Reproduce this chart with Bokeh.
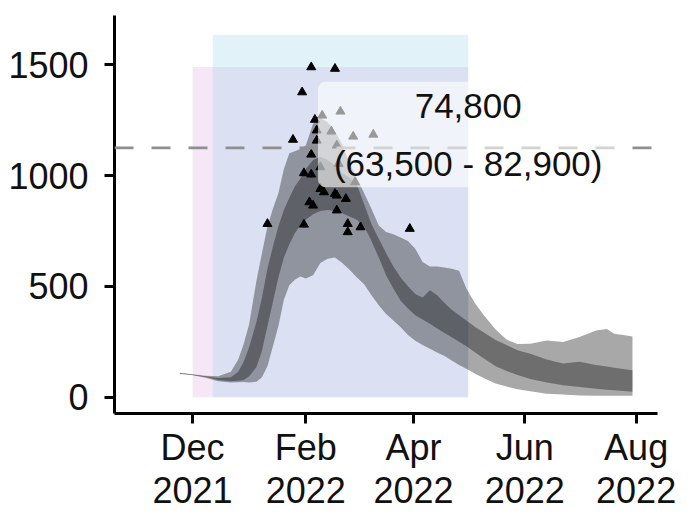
import pandas as pd
from bokeh.plotting import figure
from bokeh.models import FixedTicker, DatetimeTickFormatter, Span, Label, Range1d
from bokeh.embed import file_html
from bokeh.resources import INLINE

# ---- data -------------------------------------------------------------
band_dates = ["2021-11-24", "2021-12-01", "2021-12-08", "2021-12-15", "2021-12-22",
              "2021-12-26", "2021-12-29", "2022-01-01", "2022-01-05", "2022-01-08",
              "2022-01-11", "2022-01-14", "2022-01-17", "2022-01-20", "2022-01-23",
              "2022-01-26", "2022-01-29", "2022-02-01", "2022-02-05", "2022-02-09",
              "2022-02-13", "2022-02-17", "2022-02-21", "2022-02-25", "2022-03-01",
              "2022-03-05", "2022-03-09", "2022-03-13", "2022-03-17", "2022-03-21",
              "2022-03-25", "2022-03-29", "2022-04-02", "2022-04-06", "2022-04-10",
              "2022-04-14", "2022-04-18", "2022-04-22", "2022-04-26", "2022-04-30",
              "2022-05-05", "2022-05-10", "2022-05-16", "2022-05-22", "2022-05-28",
              "2022-06-04", "2022-06-13", "2022-06-22", "2022-07-01", "2022-07-10",
              "2022-07-16", "2022-07-20", "2022-07-25", "2022-07-30"]

outer_low = [105, 99, 88, 72, 66, 67, 68, 66, 70, 90,
             140, 230, 320, 440, 505, 530, 545, 535, 550, 605,
             625, 630, 605, 575, 540, 510, 460, 415, 375, 346,
             315, 280, 255, 235, 218, 202, 186, 165, 145, 128,
             105, 84, 62, 48, 36, 27, 16, 12, 8, 7,
             6, 6, 6, 6]
inner_low = [107, 100, 91, 78, 72, 74, 78, 95, 136, 210,
             320, 430, 540, 630, 690, 740, 775, 800, 825, 840,
             845, 840, 830, 815, 800, 770, 705, 630, 550, 490,
             435, 400, 370, 350, 331, 310, 290, 270, 250, 230,
             200, 172, 140, 118, 100, 82, 66, 54, 46, 38,
             34, 31, 28, 25]
inner_high = [109, 102, 95, 86, 90, 115, 160, 226, 340, 450,
              580, 680, 770, 845, 900, 950, 985, 1030, 1070, 1085,
              1070, 1045, 1010, 990, 960, 870, 780, 715, 650, 590,
              540, 500, 465, 450, 482, 460, 425, 395, 370, 346,
              315, 290, 258, 235, 212, 196, 170, 152, 160, 145,
              138, 133, 127, 121]
outer_high = [110, 103, 97, 95, 115, 170, 240, 330, 527, 650,
              770, 850, 920, 1030, 1100, 1110, 1120, 1136, 1234, 1261,
              1240, 1200, 1140, 1055, 990, 920, 850, 775, 745, 735,
              720, 705, 670, 610, 590, 590, 585, 580, 570, 490,
              420, 365, 305, 260, 240, 241, 256, 249, 271, 301,
              308, 286, 280, 274]

obs_dates = ["2022-02-04", "2022-02-17", "2022-01-30", "2022-02-06", "2022-02-10",
             "2022-02-20", "2022-02-07", "2022-02-15", "2022-02-27", "2022-03-10",
             "2022-01-25", "2022-02-07", "2022-02-04", "2022-02-18", "2022-02-09",
             "2022-02-19", "2022-02-28", "2022-01-31", "2022-02-04", "2022-02-09",
             "2022-02-11", "2022-02-17", "2022-02-18", "2022-02-23", "2022-02-03",
             "2022-02-05", "2022-02-18", "2022-01-11", "2022-01-31", "2022-02-24",
             "2022-02-24", "2022-03-03", "2022-03-30"]
obs_values = [1489, 1482, 1376, 1252, 1271, 1289, 1204, 1199, 1176, 1185,
              1162, 1158, 1095, 1136, 1038, 1053, 970, 1011, 1005, 940,
              925, 918, 910, 895, 880, 865, 843, 782, 779, 782,
              745, 767, 760]

pink_window = ("2021-12-01", "2022-05-01", 0, 1490)
blue_window = ("2021-12-12", "2022-05-01", 0, 1635)
reference_level = 1125

estimate_text = ["74,800", "(63,500 - 82,900)"]
estimate_pos = ("2022-05-01", 1185)

x_tick_dates = ["2021-12-01", "2022-02-01", "2022-04-01", "2022-06-01", "2022-08-01"]
y_ticks = [0, 500, 1000, 1500]

# ---- figure -----------------------------------------------------------
FONT = "Liberation Sans"
bd = pd.to_datetime(band_dates)
od = pd.to_datetime(obs_dates)

p = figure(width=697, height=523, x_axis_type="datetime",
           output_backend="svg", toolbar_location=None,
           x_range=Range1d(pd.Timestamp("2021-10-19 05:00"), pd.Timestamp("2022-08-12 17:00")),
           y_range=Range1d(-73.6, 1722),
           min_border_left=114, min_border_right=40,
           min_border_top=15, min_border_bottom=110)
p.outline_line_color = None
p.xgrid.grid_line_color = None
p.ygrid.grid_line_color = None
p.background_fill_color = "white"
p.border_fill_color = "white"

# shaded windows
p.quad(left=[pd.Timestamp(pink_window[0])], right=[pd.Timestamp(pink_window[1])],
       bottom=[pink_window[2]], top=[pink_window[3]],
       fill_color="#dda0dd", fill_alpha=0.25, line_color=None)
p.quad(left=[pd.Timestamp(blue_window[0])], right=[pd.Timestamp(blue_window[1])],
       bottom=[blue_window[2]], top=[blue_window[3]],
       fill_color="#9cd3e8", fill_alpha=0.3, line_color=None)

# uncertainty bands
p.varea(x=bd, y1=outer_low, y2=outer_high, fill_color="black", fill_alpha=0.34)
p.varea(x=bd, y1=inner_low, y2=inner_high, fill_color="black", fill_alpha=0.34)

# observations
p.scatter(x=od, y=obs_values, marker="triangle", size=9,
          fill_color="black", line_color="black")

# reference line
p.add_layout(Span(location=reference_level, dimension="width",
                  line_color="#8f8f8f", line_width=2.6, line_dash="19 18"))

# estimate label
p.add_layout(Label(x=pd.Timestamp(estimate_pos[0]), y=estimate_pos[1],
                   text="\n".join(estimate_text), text_align="center",
                   text_baseline="middle", text_font=FONT, text_font_size="35px",
                   text_color="#111111", text_line_height=1.5,
                   background_fill_color="white", background_fill_alpha=0.6,
                   padding=(16, 4), border_radius=8))

# axes
p.xaxis.ticker = FixedTicker(ticks=[pd.Timestamp(d).value / 1e6 for d in x_tick_dates])
p.xaxis.formatter = DatetimeTickFormatter(days="%b\n%Y", months="%b\n%Y", years="%b\n%Y")
p.yaxis.ticker = FixedTicker(ticks=y_ticks)
for ax in (p.xaxis[0], p.yaxis[0]):
    ax.axis_line_width = 3
    ax.axis_line_color = "black"
    ax.major_tick_line_width = 3
    ax.major_tick_line_color = "black"
    ax.major_tick_out = 10
    ax.major_tick_in = 0
    ax.minor_tick_out = 0
    ax.minor_tick_in = 0
    ax.major_label_text_font = FONT
    ax.major_label_text_font_size = "36px"
    ax.major_label_text_color = "#111111"
p.xaxis.major_label_text_line_height = 1.05
p.xaxis.major_label_standoff = 3
p.yaxis.major_label_standoff = 16

open("out.html", "w").write(file_html(p, INLINE))
